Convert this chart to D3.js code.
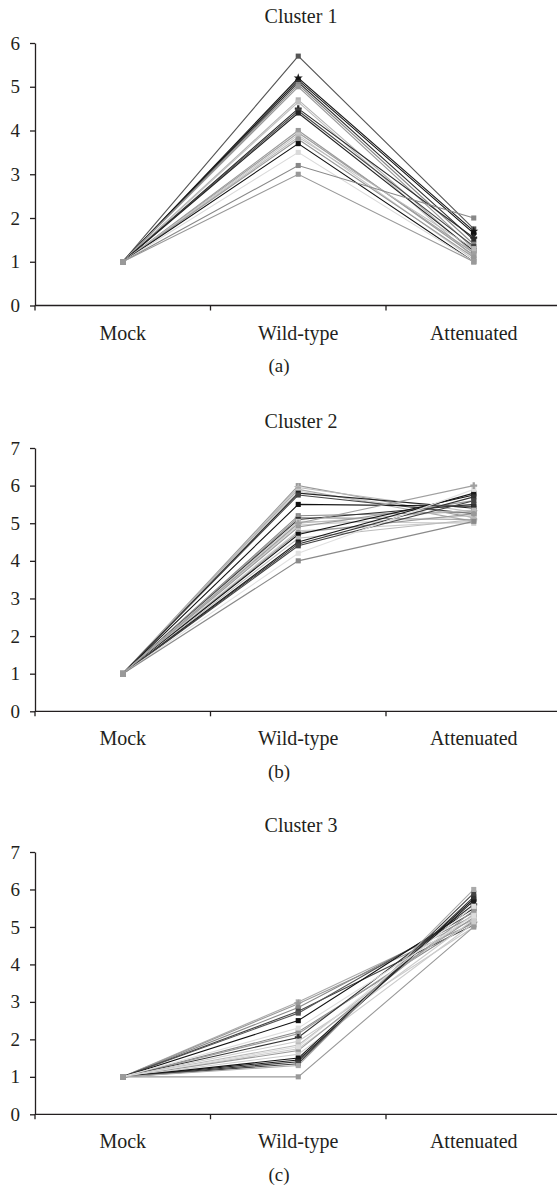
<!DOCTYPE html>
<html>
<head>
<meta charset="utf-8">
<script src="https://cdn.jsdelivr.net/npm/d3@7"></script>
<style>
  body { margin: 0; background: #fff; }
  text { font-family: "Liberation Serif", "DejaVu Serif", serif; fill: #231f20; }
</style>
</head>
<body>
<div id="chart"></div>
<script>
(function () {

    var categories = ["Mock", "Wild-type", "Attenuated"];

    // Cluster 1 (one entry per gene profile)
    var c1_mock = [1, 1, 1, 1, 1, 1, 1, 1, 1, 1, 1, 1, 1, 1, 1, 1, 1, 1, 1, 1];
    var c1_wild = [5.7, 5.2, 5.15, 5.1, 5.05, 5.0, 4.7, 4.65, 4.5, 4.45, 4.4, 4.0, 3.95, 3.9, 3.85, 3.8, 3.7, 3.5, 3.2, 3.0];
    var c1_att  = [1.75, 1.7, 1.65, 1.5, 1.4, 1.3, 1.2, 1.1, 1.55, 1.35, 1.25, 1.15, 1.2, 1.05, 1.3, 1.1, 1.0, 1.0, 2.0, 1.0];

    // Cluster 2
    var c2_mock = [1, 1, 1, 1, 1, 1, 1, 1, 1, 1, 1, 1, 1, 1, 1, 1, 1, 1, 1, 1, 1, 1, 1, 1];
    var c2_wild = [6.0, 5.95, 5.9, 5.85, 5.8, 5.75, 5.5, 5.2, 5.15, 5.1, 5.05, 5.0, 4.95, 4.9, 4.8, 4.75, 4.7, 4.6, 4.5, 4.45, 4.4, 4.2, 4.0, 5.0];
    var c2_att  = [5.15, 5.3, 5.05, 5.2, 5.4, 5.25, 5.45, 5.3, 5.1, 5.5, 5.0, 5.35, 5.2, 5.6, 5.05, 5.25, 5.75, 5.1, 5.8, 5.7, 5.6, 5.9, 5.05, 6.0];

    // Cluster 3
    var c3_mock = [1, 1, 1, 1, 1, 1, 1, 1, 1, 1, 1, 1, 1, 1, 1, 1, 1, 1, 1, 1, 1, 1];
    var c3_wild = [3.0, 2.95, 2.85, 2.75, 2.7, 2.5, 2.2, 2.15, 2.05, 1.95, 1.85, 1.75, 1.7, 1.6, 1.5, 1.45, 1.4, 1.35, 1.0, 1.3, 1.8, 2.3];
    var c3_att  = [5.2, 5.1, 5.3, 5.05, 5.4, 5.5, 5.15, 5.25, 5.6, 5.0, 5.35, 5.2, 5.45, 5.1, 5.75, 5.7, 5.8, 5.9, 5.0, 6.0, 5.55, 5.3];

    var panel_titles = ["Cluster 1", "Cluster 2", "Cluster 3"];
    var panel_tags = ["(a)", "(b)", "(c)"];
    var y_ticks_1 = [0, 1, 2, 3, 4, 5, 6];
    var y_ticks_23 = [0, 1, 2, 3, 4, 5, 6, 7];

    // grey shade of each profile line, per cluster
    var shades_1 = ["#555", "#1a1a1a", "#111", "#333", "#888", "#999", "#b0b0b0", "#c0c0c0", "#2a2a2a", "#444",
                    "#222", "#999", "#a0a0a0", "#c8c8c8", "#bbb", "#999", "#111", "#dadada", "#888", "#999"];
    var shades_2 = ["#999", "#bbb", "#aaa", "#ccc", "#222", "#444", "#111", "#888", "#999", "#333", "#ccc", "#bbb",
                    "#ccc", "#999", "#ccc", "#999", "#111", "#bbb", "#1a1a1a", "#333", "#444", "#e0e0e0", "#8a8a8a", "#a0a0a0"];
    var shades_3 = ["#aaa", "#999", "#888", "#444", "#555", "#111", "#888", "#999", "#333", "#ccc", "#bbb",
                    "#ccc", "#999", "#ccc", "#111", "#1a1a1a", "#333", "#444", "#999", "#aaa", "#ddd", "#ddd"];
    var shapes = [d3.symbolSquare, d3.symbolStar, d3.symbolCircle, d3.symbolSquare, d3.symbolSquare, d3.symbolSquare,
                  d3.symbolSquare, d3.symbolSquare, d3.symbolCross, d3.symbolSquare, d3.symbolSquare, d3.symbolSquare,
                  d3.symbolSquare, d3.symbolSquare, d3.symbolSquare, d3.symbolCircle, d3.symbolSquare, d3.symbolSquare,
                  d3.symbolSquare, d3.symbolSquare, d3.symbolSquare, d3.symbolSquare, d3.symbolSquare, d3.symbolCross];

    var panels = [
        { mock: c1_mock, wild: c1_wild, att: c1_att, shades: shades_1, ticks: y_ticks_1, top: 43, bottom: 305.5 },
        { mock: c2_mock, wild: c2_wild, att: c2_att, shades: shades_2, ticks: y_ticks_23, top: 448, bottom: 711.3 },
        { mock: c3_mock, wild: c3_wild, att: c3_att, shades: shades_3, ticks: y_ticks_23, top: 852, bottom: 1114.3 }
    ];

    var width = 557, height = 1187;
    var svg = d3.select("#chart").append("svg")
        .attr("width", width)
        .attr("height", height);

    var x = d3.scaleBand()
        .domain(categories)
        .range([35, 35 + 3 * 175.5])
        .padding(0);

    function cx(j) { return x(categories[j]) + x.bandwidth() / 2; }

    panels.forEach(function (p, k) {
        var g = svg.append("g");
        var y = d3.scaleLinear()
            .domain([0, d3.max(p.ticks)])
            .range([p.bottom, p.top]);

        var series = p.wild.map(function (w, i) {
            return { values: [p.mock[i], w, p.att[i]], i: i, color: p.shades[i] };
        });

        // title
        g.append("text")
            .attr("x", 301)
            .attr("y", p.top - 20)
            .attr("text-anchor", "middle")
            .style("font-size", "20px")
            .text(panel_titles[k]);

        // lines
        var line = d3.line()
            .x(function (d, j) { return cx(j); })
            .y(function (d) { return y(d); });

        g.selectAll("path.series")
            .data(series)
            .enter()
            .append("path")
            .attr("class", "series")
            .attr("d", function (d) { return line(d.values); })
            .style("fill", "none")
            .style("stroke", function (d) { return d.color; })
            .style("stroke-width", 1.1);

        // markers (wild-type and attenuated), then one shared mock marker on top
        series.forEach(function (s) {
            g.selectAll(null)
                .data(s.values.slice(1))
                .enter()
                .append("path")
                .attr("transform", function (d, j) {
                    return "translate(" + cx(j + 1) + "," + y(d) + ")";
                })
                .attr("d", d3.symbol().type(shapes[s.i % shapes.length]).size(26))
                .style("fill", s.color);
        });
        g.selectAll(null)
            .data(series)
            .enter()
            .append("path")
            .attr("transform", function (d) { return "translate(" + cx(0) + "," + y(d.values[0]) + ")"; })
            .attr("d", d3.symbol().type(d3.symbolSquare).size(30))
            .style("fill", "#999");

        // y axis
        var yAxis = d3.axisLeft(y)
            .tickValues(p.ticks)
            .tickFormat(d3.format("d"))
            .tickSize(5)
            .tickSizeOuter(0)
            .tickPadding(10);
        var ya = g.append("g")
            .attr("transform", "translate(35,0)")
            .call(yAxis);
        ya.select(".domain").style("stroke", "#231f20").style("stroke-width", 1.3);
        ya.selectAll(".tick line").style("stroke", "#231f20").style("stroke-width", 1.3);
        ya.selectAll(".tick text")
            .style("font-size", "19px")
            .style("font-family", "'Liberation Serif', serif")
            .style("fill", "#231f20");

        // x axis: labels centred in bands, ticks at band edges
        var xAxis = d3.axisBottom(x).tickSize(0).tickSizeOuter(0).tickPadding(20);
        var xa = g.append("g")
            .attr("transform", "translate(0," + p.bottom + ")")
            .call(xAxis);
        xa.select(".domain").remove();
        xa.selectAll(".tick text")
            .style("font-size", "20px")
            .style("font-family", "'Liberation Serif', serif")
            .style("fill", "#231f20");

        g.append("line")
            .attr("x1", 35).attr("x2", width)
            .attr("y1", p.bottom).attr("y2", p.bottom)
            .style("stroke", "#231f20")
            .style("stroke-width", 1.3);

        var edges = d3.range(categories.length).map(function (j) { return x.range()[0] + j * x.step(); });
        g.selectAll("line.edge")
            .data(edges)
            .enter()
            .append("line")
            .attr("class", "edge")
            .attr("x1", function (d) { return d; })
            .attr("x2", function (d) { return d; })
            .attr("y1", p.bottom)
            .attr("y2", p.bottom + 5)
            .style("stroke", "#231f20")
            .style("stroke-width", 1.3);

        // panel tag
        g.append("text")
            .attr("x", 279)
            .attr("y", p.bottom + 66.5)
            .attr("text-anchor", "middle")
            .style("font-size", "19px")
            .text(panel_tags[k]);
    });
})();
</script>
</body>
</html>
